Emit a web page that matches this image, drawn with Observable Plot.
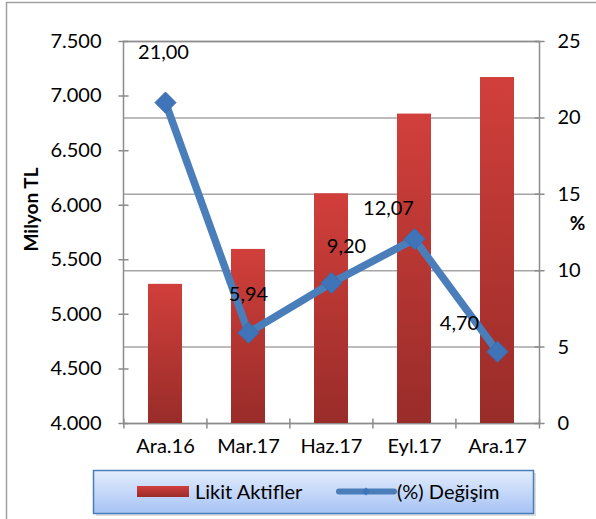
<!DOCTYPE html>
<html><head><meta charset="utf-8">
<script src="https://cdn.jsdelivr.net/npm/d3@7"></script>
<script src="https://cdn.jsdelivr.net/npm/@observablehq/plot@0.6"></script>
<style>
html,body{margin:0;padding:0;background:#fff;}
#chart{position:relative;width:596px;height:519px;}
</style></head><body><div id="chart"></div>
<script>
// ---- data ----
const categories = ["Ara.16", "Mar.17", "Haz.17", "Eyl.17", "Ara.17"];
const likitAktifler = [5275, 5595, 6105, 6835, 7170];
const degisim = [21.00, 5.94, 9.20, 12.07, 4.70];
const leftTicks = [4000, 4500, 5000, 5500, 6000, 6500, 7000, 7500];
const rightTicks = [0, 5, 10, 15, 20, 25];
const seriesNames = ["Likit Aktifler", "(%) Değişim"];
const leftAxisTitle = "Milyon TL";
const rightAxisTitle = "%";

// ---- scales helpers ----
const yMin = 4000, yMax = 7500, pMax = 25;
const pctToY = p => yMin + p / pMax * (yMax - yMin);
const yToPct = y => (y - yMin) / (yMax - yMin) * pMax;
const trLocale = d3.formatLocale({decimal: ",", thousands: ".", grouping: [3], currency: ["", ""]});
const fmtThousands = trLocale.format(",.0f");
const fmtPct = trLocale.format(".2f");

const data = categories.map((c, i) => ({cat: c, value: likitAktifler[i], pct: degisim[i]}));

// label placement offsets (layout only)
const labelOffsets = [[-2, -50], [0, -38], [15, -36], [-26, -30], [-38, -28]];

const FS = 20;
const axisColor = "#8c8c8c";
const gridColor = "#a6a6a6";
const lineColor = "#4a7ebb";
const font = "Lato, 'Open Sans', sans-serif";
const tickShape = {draw(ctx, l) { ctx.moveTo(0, 0); ctx.lineTo(0, -l); }};
const step = (539 - 123) / categories.length;

const labelMarks = data.map((d, i) => Plot.text([d], {
  x: "cat", y: e => pctToY(e.pct), text: e => fmtPct(e.pct),
  dx: labelOffsets[i][0], dy: labelOffsets[i][1], fill: "#000", fontSize: FS
}));

const plot = Plot.plot({
  width: 596, height: 519,
  marginLeft: 123, marginRight: 57, marginTop: 41, marginBottom: 96,
  style: {fontFamily: font, fontSize: FS + "px", color: "#000", background: "transparent", overflow: "visible"},
  x: {domain: categories, paddingInner: 0.59, paddingOuter: 0.295, axis: null},
  y: {domain: [yMin, yMax], axis: null},
  marks: [
    Plot.ruleY(rightTicks.map(pctToY), {stroke: gridColor, strokeWidth: 1.5}),
    Plot.frame({stroke: axisColor, strokeWidth: 1.5}),
    Plot.vector(leftTicks, {y: d => d, frameAnchor: "left", rotate: 90, length: 9, anchor: "middle", shape: tickShape, stroke: axisColor, strokeWidth: 1.5}),
    Plot.vector(rightTicks.map(pctToY), {y: d => d, frameAnchor: "right", rotate: 90, length: 9, anchor: "middle", shape: tickShape, stroke: axisColor, strokeWidth: 1.5}),
    Plot.vector(categories, {x: d => d, frameAnchor: "bottom", dx: -step / 2, length: 9, anchor: "middle", shape: tickShape, stroke: axisColor, strokeWidth: 1.5}),
    Plot.vector([0], {frameAnchor: "bottom-right", length: 9, anchor: "middle", shape: tickShape, stroke: axisColor, strokeWidth: 1.5}),
    Plot.barY(data, {x: "cat", y1: () => yMin, y2: "value", fill: "url(#barGrad)", style: "filter:drop-shadow(1px 1px 1.5px rgba(0,0,0,0.25))"}),
    Plot.line(data, {x: "cat", y: d => pctToY(d.pct), stroke: lineColor, strokeWidth: 7.5, strokeLinejoin: "round", style: "filter:drop-shadow(1px 2px 1.5px rgba(0,0,0,0.3))"}),
    Plot.dot(data, {x: "cat", y: d => pctToY(d.pct), symbol: "diamond2", r: 9.5, fill: "#3f74b8", stroke: "#3a6cae", strokeWidth: 1}),
    ...labelMarks,
    Plot.axisY({anchor: "left", ticks: leftTicks, tickFormat: fmtThousands, tickSize: 0, tickPadding: 22, label: null, fontSize: FS}),
    Plot.axisY({anchor: "right", ticks: rightTicks.map(pctToY), tickFormat: d => String(Math.round(yToPct(d))), tickSize: 0, tickPadding: 18, label: null, fontSize: FS}),
    Plot.axisX({anchor: "bottom", tickSize: 0, tickPadding: 15, label: null, fontSize: FS}),
    Plot.text([leftAxisTitle], {frameAnchor: "left", textAnchor: "middle", dx: -92, dy: -23, rotate: -90, fontWeight: "bold", fontSize: 19}),
    Plot.text([rightAxisTitle], {frameAnchor: "right", textAnchor: "middle", dx: 38, dy: -9, fontWeight: "bold", fontSize: 19})
  ]
});

const svg = d3.select(plot);
const defs = svg.insert("defs", ":first-child");
const bg = defs.append("linearGradient").attr("id", "barGrad").attr("x1", 0).attr("y1", 0).attr("x2", 0).attr("y2", 1);
bg.append("stop").attr("offset", 0).attr("stop-color", "#d13f3b");
bg.append("stop").attr("offset", 1).attr("stop-color", "#992c29");
const lg = defs.append("linearGradient").attr("id", "legGrad").attr("x1", 0).attr("y1", 0).attr("x2", 0).attr("y2", 1);
lg.append("stop").attr("offset", 0).attr("stop-color", "#e3edfc");
lg.append("stop").attr("offset", 1).attr("stop-color", "#a6c3f5");

// outer chart border
svg.insert("rect", "defs + *").attr("x", 6.5).attr("y", 2.5).attr("width", 620).attr("height", 600)
  .attr("fill", "none").attr("stroke", "#a0a0a0").attr("stroke-width", 1.5);

// legend
const leg = svg.append("g").attr("font-family", font).attr("font-size", FS).attr("text-anchor", "start");
leg.append("rect").attr("x", 96).attr("y", 473).attr("width", 440).attr("height", 43).attr("fill", "#c8c8c8").attr("opacity", 0.6);
leg.append("rect").attr("x", 93.5).attr("y", 470.5).attr("width", 440).attr("height", 43)
  .attr("fill", "url(#legGrad)").attr("stroke", lineColor).attr("stroke-width", 1.5);
leg.append("rect").attr("x", 137).attr("y", 486).attr("width", 52).attr("height", 11).attr("fill", "url(#barGrad)");
leg.append("text").attr("x", 195).attr("y", 492).attr("dy", "0.35em").text(seriesNames[0]);
leg.append("line").attr("x1", 339).attr("x2", 394).attr("y1", 491.5).attr("y2", 491.5)
  .attr("stroke", lineColor).attr("stroke-width", 6).attr("stroke-linecap", "round");
leg.append("path").attr("d", d3.symbol(d3.symbolDiamond2, 40)()).attr("transform", "translate(366,491.5)").attr("fill", "#3f74b8");
leg.append("text").attr("x", 397).attr("y", 492).attr("dy", "0.35em").text(seriesNames[1]);

document.getElementById("chart").appendChild(plot);
</script>
</body></html>
